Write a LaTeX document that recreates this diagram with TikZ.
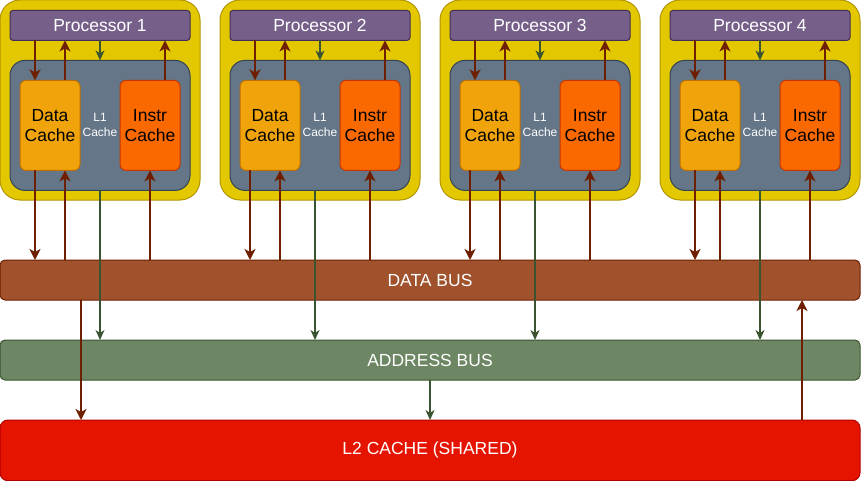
\documentclass[tikz,border=0pt]{standalone}
\usepackage{fontspec}
\setmainfont{Liberation Sans}
\usetikzlibrary{arrows.meta}

\definecolor{giallo}{HTML}{E3C800}
\definecolor{giallob}{HTML}{B09500}
\definecolor{viola}{HTML}{76608A}
\definecolor{violab}{HTML}{432D57}
\definecolor{grigio}{HTML}{647687}
\definecolor{grigiob}{HTML}{314354}
\definecolor{arancio}{HTML}{F0A30A}
\definecolor{aranciob}{HTML}{BD7000}
\definecolor{rosso}{HTML}{FA6800}
\definecolor{rossob}{HTML}{C73500}
\definecolor{marrone}{HTML}{A0522D}
\definecolor{marroneb}{HTML}{6D1F00}
\definecolor{verde}{HTML}{6D8764}
\definecolor{verdeb}{HTML}{3A5431}
\definecolor{lrosso}{HTML}{E51400}
\definecolor{lrossob}{HTML}{B20000}

\tikzset{
  base/.style={inner sep=0pt, outer sep=0pt, align=center, line width=1pt},
  grp/.style={base, draw=giallob, fill=giallo, rounded corners=20pt,
    minimum width=200pt, minimum height=200pt},
  procbox/.style={base, draw=violab, fill=viola, rounded corners=3pt, text=white,
    minimum width=180pt, minimum height=30pt, font=\fontsize{17.5}{20.5}\selectfont},
  lunobox/.style={base, draw=grigiob, fill=grigio, rounded corners=15pt, text=white,
    minimum width=180pt, minimum height=130pt, font=\fontsize{12}{15}\selectfont},
  cbox/.style={base, rounded corners=6pt, minimum width=60pt, minimum height=90pt,
    font=\fontsize{17.5}{20.5}\selectfont},
  busbox/.style={base, rounded corners=5pt, text=white, minimum width=860pt,
    font=\fontsize{17.5}{20.5}\selectfont},
  darr/.style={draw=marroneb, line width=1.8pt, -{Stealth[length=11pt,width=11pt,inset=3pt]}},
  aarr/.style={draw=verdeb, line width=1.4pt, -{Stealth[length=10pt,width=9pt,inset=3pt]}},
}

\begin{document}
\begin{tikzpicture}[x=1pt,y=-1pt]
\useasboundingbox (0,0) rectangle (861,481);

% bus
\node[busbox, draw=marroneb, fill=marrone, minimum height=40pt] (databus) at (430,280) {DATA BUS};
\node[busbox, draw=verdeb, fill=verde, minimum height=40pt] (addrbus) at (430,360) {ADDRESS BUS};
\node[busbox, draw=lrossob, fill=lrosso, minimum height=60.7pt, rounded corners=8pt] (ltwo) at (430,450.35) {L2 CACHE (SHARED)};

% processori
\foreach \i/\g/\a/\b/\c in {1/0/35/65/100,2/220/30/60/95,3/440/30/60/95,4/660/35/60/100}{
  \node[grp] (grp\i) at (\g+100,100) {};
  \node[procbox] (proc\i) at (\g+100,25.4) {Processor \i};
  \node[lunobox] (luno\i) at (\g+100,125.4) {L1\\Cache};
  \node[cbox, draw=aranciob, fill=arancio] (dc\i) at (\g+50,125.4) {Data\\Cache};
  \node[cbox, draw=rossob, fill=rosso] (ic\i) at (\g+150,125.4) {Instr\\Cache};

  % sopra
  \draw[darr] ([xshift=15pt]dc\i.north west |- proc\i.south) -- ([xshift=15pt]dc\i.north west);
  \draw[darr] ([xshift=45pt]dc\i.north west) -- ([xshift=45pt]dc\i.north west |- proc\i.south);
  \draw[aarr] (proc\i.south) -- (luno\i.north);
  \draw[darr] ([xshift=45pt]ic\i.north west) -- ([xshift=45pt]ic\i.north west |- proc\i.south);

  % sotto
  \draw[darr] ([xshift={(\a-20)*1pt}]dc\i.south west) -- ([xshift={(\a-20)*1pt}]dc\i.south west |- databus.north);
  \draw[darr] ([xshift={(\b-20)*1pt}]dc\i.south west |- databus.north) -- ([xshift={(\b-20)*1pt}]dc\i.south west);
  \draw[darr] ([xshift=30pt]ic\i.south west |- databus.north) -- ([xshift=30pt]ic\i.south west);
  \draw[aarr] ([xshift={(\c-10)*1pt}]luno\i.south west) -- ([xshift={(\c-10)*1pt}]luno\i.south west |- addrbus.north);
}

% L2
\draw[darr] ([xshift=81pt]databus.south west) -- ([xshift=81pt]databus.south west |- ltwo.north);
\draw[darr] ([xshift=802pt]ltwo.north west) -- ([xshift=802pt]ltwo.north west |- databus.south);
\draw[aarr] (addrbus.south) -- (ltwo.north);

\end{tikzpicture}
\end{document}
